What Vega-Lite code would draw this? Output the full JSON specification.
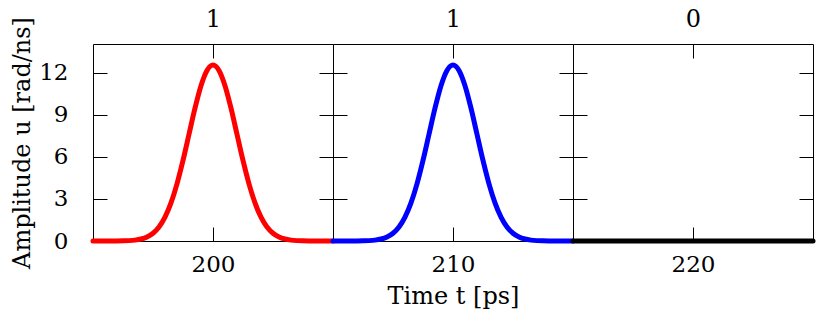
{
  "$schema": "https://vega.github.io/schema/vega-lite/v6.json",
  "background": "white",
  "padding": {"left": 10, "top": 7, "right": 5, "bottom": 5},
  "spacing": 0,
  "bounds": "flush",
  "datasets": {
    "p1": [
      {"t":195,"u":0},{"t":195.5,"u":0},{"t":196,"u":0.004},{"t":196.25,"u":0.011},{"t":196.5,"u":0.027},{"t":196.75,"u":0.064},
      {"t":197,"u":0.14},{"t":197.25,"u":0.286},{"t":197.5,"u":0.552},{"t":197.75,"u":1.0},{"t":198,"u":1.701},{"t":198.25,"u":2.718},
      {"t":198.5,"u":4.08},{"t":198.75,"u":5.753},{"t":199,"u":7.622},{"t":199.25,"u":9.486},{"t":199.5,"u":11.09},{"t":199.75,"u":12.18},
      {"t":200,"u":12.566},
      {"t":200.25,"u":12.18},{"t":200.5,"u":11.09},{"t":200.75,"u":9.486},{"t":201,"u":7.622},{"t":201.25,"u":5.753},{"t":201.5,"u":4.08},
      {"t":201.75,"u":2.718},{"t":202,"u":1.701},{"t":202.25,"u":1.0},{"t":202.5,"u":0.552},{"t":202.75,"u":0.286},{"t":203,"u":0.14},
      {"t":203.25,"u":0.064},{"t":203.5,"u":0.027},{"t":203.75,"u":0.011},{"t":204,"u":0.004},{"t":204.5,"u":0},{"t":205,"u":0}
    ],
    "p2": [
      {"t":205,"u":0},{"t":205.5,"u":0},{"t":206,"u":0.004},{"t":206.25,"u":0.011},{"t":206.5,"u":0.027},{"t":206.75,"u":0.064},
      {"t":207,"u":0.14},{"t":207.25,"u":0.286},{"t":207.5,"u":0.552},{"t":207.75,"u":1.0},{"t":208,"u":1.701},{"t":208.25,"u":2.718},
      {"t":208.5,"u":4.08},{"t":208.75,"u":5.753},{"t":209,"u":7.622},{"t":209.25,"u":9.486},{"t":209.5,"u":11.09},{"t":209.75,"u":12.18},
      {"t":210,"u":12.566},
      {"t":210.25,"u":12.18},{"t":210.5,"u":11.09},{"t":210.75,"u":9.486},{"t":211,"u":7.622},{"t":211.25,"u":5.753},{"t":211.5,"u":4.08},
      {"t":211.75,"u":2.718},{"t":212,"u":1.701},{"t":212.25,"u":1.0},{"t":212.5,"u":0.552},{"t":212.75,"u":0.286},{"t":213,"u":0.14},
      {"t":213.25,"u":0.064},{"t":213.5,"u":0.027},{"t":213.75,"u":0.011},{"t":214,"u":0.004},{"t":214.5,"u":0},{"t":215,"u":0}
    ],
    "p3": [
      {"t":215,"u":0},{"t":217.5,"u":0},{"t":220,"u":0},{"t":222.5,"u":0},{"t":225,"u":0}
    ]
  },
  "hconcat": [
    {
      "width": 240, "height": 197,
      "layer": [
        {
          "data": {"name": "p1"},
          "mark": {"type": "line", "color": "#ff0000", "strokeWidth": 5, "strokeCap": "round", "strokeJoin": "round", "interpolate": "monotone"},
          "encoding": {
            "x": {"field": "t", "type": "quantitative", "scale": {"domain": [195, 205], "nice": false, "zero": false},
                  "axis": {"orient": "bottom", "values": [200], "title": null}},
            "y": {"field": "u", "type": "quantitative", "scale": {"domain": [0, 14.07], "nice": false},
                  "axis": {"orient": "left", "values": [0, 3, 6, 9, 12], "title": "Amplitude u [rad/ns]", "labelPadding": 39, "titlePadding": 4}}
          }
        },
        {
          "data": {"name": "p1"},
          "mark": {"type": "line", "opacity": 0},
          "encoding": {
            "x": {"field": "t", "type": "quantitative", "axis": {"orient": "top", "values": [200], "labels": false, "title": "1", "titlePadding": 12}},
            "y": {"field": "u", "type": "quantitative", "axis": {"orient": "right", "values": [0, 3, 6, 9, 12], "labels": false, "title": null}}
          }
        }
      ],
      "resolve": {"axis": {"x": "independent", "y": "independent"}}
    },
    {
      "width": 240, "height": 197,
      "layer": [
        {
          "data": {"name": "p2"},
          "mark": {"type": "line", "color": "#0000ff", "strokeWidth": 5, "strokeCap": "round", "strokeJoin": "round", "interpolate": "monotone"},
          "encoding": {
            "x": {"field": "t", "type": "quantitative", "scale": {"domain": [205, 215], "nice": false, "zero": false},
                  "axis": {"orient": "bottom", "values": [210], "title": "Time t [ps]", "titlePadding": 8}},
            "y": {"field": "u", "type": "quantitative", "scale": {"domain": [0, 14.07], "nice": false},
                  "axis": {"orient": "left", "values": [0, 3, 6, 9, 12], "labels": false, "title": null}}
          }
        },
        {
          "data": {"name": "p2"},
          "mark": {"type": "line", "opacity": 0},
          "encoding": {
            "x": {"field": "t", "type": "quantitative", "axis": {"orient": "top", "values": [210], "labels": false, "title": "1", "titlePadding": 12}},
            "y": {"field": "u", "type": "quantitative", "axis": {"orient": "right", "values": [0, 3, 6, 9, 12], "labels": false, "title": null}}
          }
        }
      ],
      "resolve": {"axis": {"x": "independent", "y": "independent"}}
    },
    {
      "width": 240, "height": 197,
      "layer": [
        {
          "data": {"name": "p3"},
          "mark": {"type": "line", "color": "#000000", "strokeWidth": 5, "strokeCap": "round", "strokeJoin": "round"},
          "encoding": {
            "x": {"field": "t", "type": "quantitative", "scale": {"domain": [215, 225], "nice": false, "zero": false},
                  "axis": {"orient": "bottom", "values": [220], "title": null}},
            "y": {"field": "u", "type": "quantitative", "scale": {"domain": [0, 14.07], "nice": false},
                  "axis": {"orient": "left", "values": [0, 3, 6, 9, 12], "labels": false, "title": null}}
          }
        },
        {
          "data": {"name": "p3"},
          "mark": {"type": "line", "opacity": 0},
          "encoding": {
            "x": {"field": "t", "type": "quantitative", "axis": {"orient": "top", "values": [220], "labels": false, "title": "0", "titlePadding": 12}},
            "y": {"field": "u", "type": "quantitative", "axis": {"orient": "right", "values": [0, 3, 6, 9, 12], "labels": false, "title": null}}
          }
        }
      ],
      "resolve": {"axis": {"x": "independent", "y": "independent"}}
    }
  ],
  "config": {
    "view": {"stroke": "black", "strokeWidth": 1},
    "font": "DejaVu Serif",
    "axis": {
      "domain": false, "grid": false, "tickSize": -14, "tickColor": "black", "tickWidth": 1,
      "labelFont": "DejaVu Serif", "labelFontSize": 23, "labelColor": "black", "labelPadding": 26, "labelFlush": false,
      "titleFont": "DejaVu Serif", "titleFontSize": 24, "titleFontWeight": "normal", "titleColor": "black"
    }
  }
}
